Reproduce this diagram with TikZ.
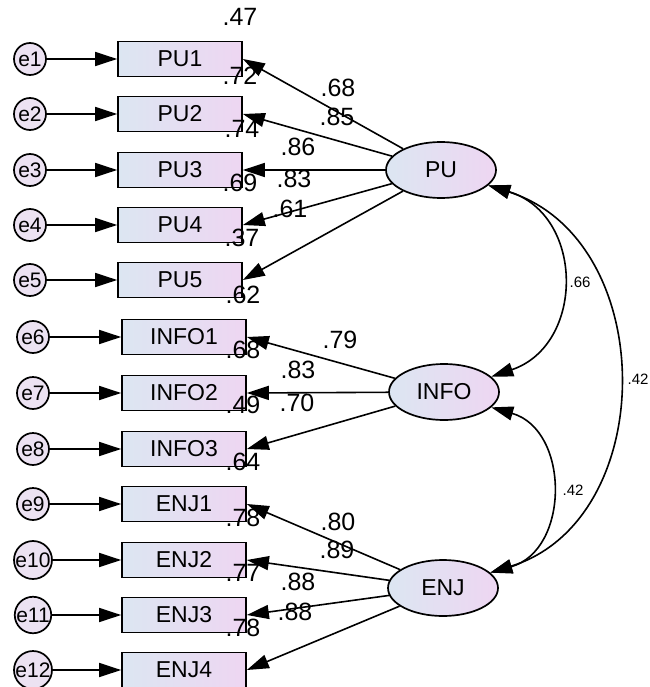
\documentclass[tikz,border=0pt]{standalone}
\usepackage{fontspec}
\setmainfont{Liberation Sans}
\usetikzlibrary{arrows.meta,shapes.geometric}
\definecolor{bl}{RGB}{220,230,242}
\definecolor{pk}{RGB}{238,214,242}
\definecolor{ec}{RGB}{236,226,242}
\begin{document}
\begin{tikzpicture}[x=1pt,y=-1pt,
 obs/.style={draw,line width=1.7pt,minimum width=124pt,minimum height=35pt,left color=bl,right color=pk,inner sep=0,font=\fontsize{23}{23}\selectfont},
 lat/.style={draw,ellipse,line width=1.7pt,minimum width=110pt,minimum height=56pt,left color=bl,right color=pk,inner sep=0,font=\fontsize{23}{23}\selectfont},
 err/.style={draw,circle,line width=1.7pt,minimum size=32pt,fill=ec,inner sep=0,font=\fontsize{21}{21}\selectfont},
 arr/.style={line width=1.6pt,-{Triangle[length=22pt,width=14pt]}},
 cov/.style={line width=1.6pt,{Triangle[length=22pt,width=14pt]}-{Triangle[length=22pt,width=14pt]}},
 num/.style={font=\fontsize{25}{25}\selectfont,inner sep=0},
 snum/.style={font=\fontsize{15}{15}\selectfont,inner sep=0}]
\useasboundingbox[fill=white] (0,0) rectangle (649,687);
% latent variables
\node[lat] (PU) at (441,170) {PU};
\node[lat] (INFO) at (444,392) {INFO};
\node[lat] (ENJ) at (443,588) {ENJ};
% PU indicators
\foreach \i/\y in {1/59,2/114,3/170,4/225,5/280}{
  \node[err] (e\i) at (30,\y) {e\i};
  \node[obs] (pu\i) at (180,\y) {PU\i};
  \draw[arr] (e\i) -- (pu\i.west);
  \draw[arr] (PU) -- (pu\i.east);
}
% INFO indicators
\foreach \i/\e/\y in {1/6/337,2/7/393,3/8/449}{
  \node[err] (e\e) at (33,\y) {e\e};
  \node[obs] (info\i) at (184,\y) {INFO\i};
  \draw[arr] (e\e) -- (info\i.west);
  \draw[arr] (INFO) -- (info\i.east);
}
% ENJ indicators
\foreach \i/\e/\y in {1/9/504,2/10/560,3/11/615,4/12/670}{
  \node[err] (e\e) at (33,\y) {e\e};
  \node[obs] (enj\i) at (184,\y) {ENJ\i};
  \draw[arr] (e\e) -- (enj\i.west);
  \draw[arr] (ENJ) -- (enj\i.east);
}
% covariances
\draw[cov] (PU.-18) .. controls (585,215) and (585,345) .. (INFO.18);
\draw[cov] (PU.-18) .. controls (660,240) and (660,520) .. (ENJ.18);
\draw[cov] (INFO.-18) .. controls (570,430) and (570,550) .. (ENJ.18);
% squared multiple correlations
\node[num] (r1) at (240,17) {.47};
\node[num] (r2) at (240,76) {.72};
\node[num] (r3) at (242,129) {.74};
\node[num] (r4) at (240,183) {.69};
\node[num] (r5) at (242,238) {.37};
\node[num] (r6) at (243,295) {.62};
\node[num] (r7) at (243,350) {.68};
\node[num] (r8) at (243,405) {.49};
\node[num] (r9) at (243,462) {.64};
\node[num] (r10) at (243,518) {.78};
\node[num] (r11) at (243,573) {.77};
\node[num] (r12) at (243,628) {.78};
% loadings
\node[num] (w1) at (338,88) {.68};
\node[num] (w2) at (337,117) {.85};
\node[num] (w3) at (298,147) {.86};
\node[num] (w4) at (294,179) {.83};
\node[num] (w5) at (290,209) {.61};
\node[num] (w6) at (340,340) {.79};
\node[num] (w7) at (298,370) {.83};
\node[num] (w8) at (297,403) {.70};
\node[num] (w9) at (338,522) {.80};
\node[num] (w10) at (337,550) {.89};
\node[num] (w11) at (298,582) {.88};
\node[num] (w12) at (295,612) {.88};
% correlations
\node[snum] (c1) at (580,282) {.66};
\node[snum] (c2) at (638,379) {.42};
\node[snum] (c3) at (573,490) {.42};
\end{tikzpicture}
\end{document}
